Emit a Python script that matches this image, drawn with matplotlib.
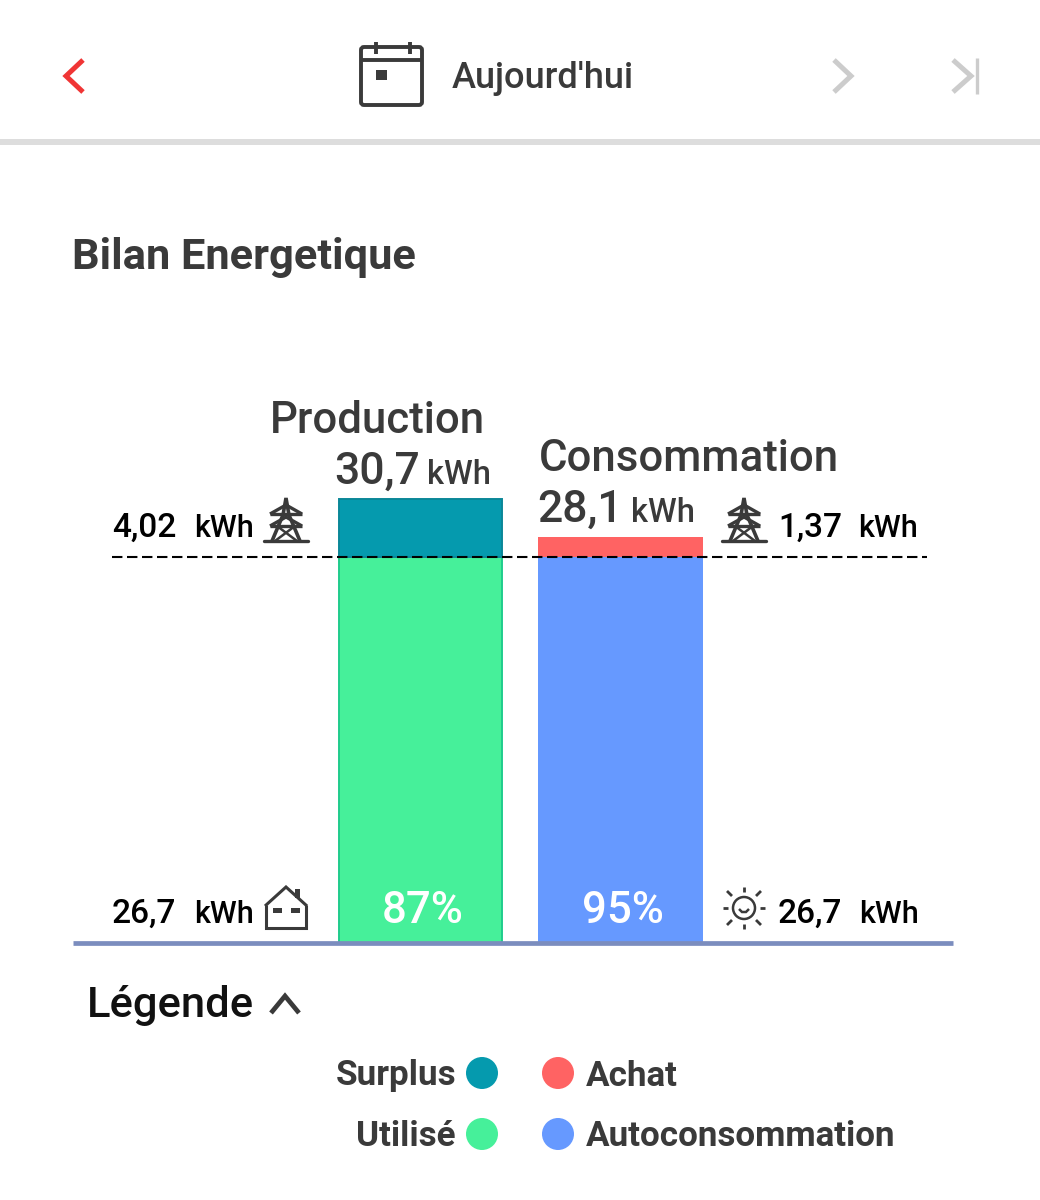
import matplotlib
matplotlib.use('AGG')
import matplotlib.pyplot as plt
from matplotlib.patches import Circle, Rectangle, FancyBboxPatch

plt.rcParams['font.family'] = ['Roboto', 'DejaVu Sans']
plt.rcParams['font.weight'] = 'medium'

# Values
columns = ['Production', 'Consommation']
totals = ['30,7', '28,1']
base_values = [26.7, 26.7]
top_values = [4.02, 1.37]
percents = ['87%', '95%']
side_top = ['4,02', '1,37']
side_bottom = ['26,7', '26,7']

legend_left = ['Surplus', 'Utilisé']
legend_right = ['Achat', 'Autoconsommation']

TEAL = '#059AAE'
GREEN = '#46F09A'
RED = '#FF6363'
BLUE = '#6699FF'
DARK = '#3A3A3A'
GREY = '#CCCCCC'

fig = plt.figure(figsize=(10.4, 12), dpi=100, facecolor='white')

# Bars: one bar step is 200 px, 1 kWh is about 14.46 px
ax = fig.add_axes([73 / 1040, 1 - 943 / 1200, 880 / 1040, 578.4 / 1200])
ax.set_xlim(-1.735, 2.665)
ax.set_ylim(0, 40)
ax.patch.set_alpha(0)
ax.set_xticks([])
ax.set_yticks([])
for side in ['top', 'left', 'right']:
    ax.spines[side].set_visible(False)
ax.spines['bottom'].set_color('#7B8DBE')
ax.spines['bottom'].set_linewidth(3.4)
ax.spines['bottom'].set_capstyle('butt')
ax.spines['bottom'].set_zorder(5)

ax.bar(0, base_values[0], width=0.815, color=GREEN, edgecolor='#20CC8C', linewidth=1.4)
ax.bar(0, top_values[0], bottom=base_values[0], width=0.815, color=TEAL,
       edgecolor='#0B8798', linewidth=1.4)
ax.bar(1, base_values[1], width=0.825, color=BLUE)
ax.bar(1, top_values[1], bottom=base_values[1], width=0.825, color=RED)
ax.plot([-1.54, 2.535], [base_values[0], base_values[0]], color='black', lw=1.5,
        dashes=(5, 2.2), zorder=6)

# Everything around the chart, in pixels
ov = fig.add_axes([0, 0, 1, 1], zorder=10)
ov.set_xlim(0, 1040)
ov.set_ylim(1200, 0)
ov.axis('off')


def line(xs, ys, color=DARK, lw=2.0, cap='butt', join='miter'):
    ov.plot(xs, ys, color=color, lw=lw, solid_capstyle=cap, solid_joinstyle=join)


def pylon(cx, base):
    line([cx - 22, cx + 22], [base, base], lw=2.4, cap='round')
    line([cx - 14, cx - 3, cx, cx + 3, cx + 14], [base, base - 26, base - 43, base - 26, base], lw=2.6)
    line([cx - 16, cx, cx + 16], [base - 27, base - 36, base - 27], lw=2.4)
    line([cx - 16, cx + 16], [base - 27, base - 27], lw=2.4)
    line([cx - 16, cx, cx + 16], [base - 15, base - 24, base - 15], lw=2.4)
    line([cx - 16, cx + 16], [base - 15, base - 15], lw=2.4)
    line([cx - 11, cx + 9], [base, base - 15], lw=1.8)
    line([cx + 11, cx - 9], [base, base - 15], lw=1.8)


def house(x0, y0):
    line([x0, x0 + 21, x0 + 42], [y0 + 19, y0, y0 + 19], lw=2.2)
    line([x0 + 1, x0 + 1, x0 + 41, x0 + 41], [y0 + 18, y0 + 41, y0 + 41, y0 + 18], lw=2.2)
    ov.add_patch(Rectangle((x0 + 30, y0 + 2), 5, 9, color=DARK, lw=0))
    ov.add_patch(Rectangle((x0 + 8, y0 + 21), 9, 5, color=DARK, lw=0))
    ov.add_patch(Rectangle((x0 + 26, y0 + 21), 9, 5, color=DARK, lw=0))


def sun(cx, cy):
    ov.add_patch(Circle((cx, cy), 11, fill=False, ec=DARK, lw=1.8))
    for dx, dy in [(0, -1), (0, 1), (-1, 0), (1, 0)]:
        line([cx + dx * 16, cx + dx * 21], [cy + dy * 16, cy + dy * 21], lw=2.0)
    for dx, dy in [(-1, -1), (1, -1), (-1, 1), (1, 1)]:
        line([cx + dx * 12, cx + dx * 17], [cy + dy * 12, cy + dy * 17], lw=2.0)
    line([cx - 5, cx - 2, cx + 2, cx + 5], [cy + 1, cy + 4, cy + 4, cy + 1], lw=1.8)


# Header
ov.add_patch(Rectangle((0, 139), 1040, 6, color='#DDDDDD', lw=0))
line([83, 66, 83], [60, 76, 92], color='#F03535', lw=3.6)
line([834, 851, 834], [60, 76, 92], color=GREY, lw=3.6)
line([953, 971, 953], [60, 76, 92], color=GREY, lw=3.6)
line([977, 977], [58, 94], color=GREY, lw=2.4)
ov.add_patch(FancyBboxPatch((361, 47), 61, 58, boxstyle='round,pad=0,rounding_size=3',
                            fill=False, ec=DARK, lw=2.8))
line([361, 422], [60, 60], lw=2.8)
line([376, 376], [42, 54], lw=2.8)
line([410, 410], [42, 54], lw=2.8)
ov.add_patch(Rectangle((376, 70), 11, 10, color=DARK, lw=0))
ov.text(452, 78, "Aujourd'hui", fontsize=26, color=DARK, va='center', ha='left')

ov.text(72, 257, 'Bilan Energetique', fontsize=31.2, fontweight='bold', color=DARK,
        va='center', ha='left')

# Column titles
ov.text(377, 421, columns[0], fontsize=31.5, color=DARK, va='center', ha='center')
ov.text(334.5, 484, totals[0], fontsize=32, color=DARK, va='baseline', ha='left')
ov.text(427, 484, 'kWh', fontsize=23.5, color=DARK, va='baseline', ha='left')
ov.text(539, 459, columns[1], fontsize=31.5, color=DARK, va='center', ha='left')
ov.text(537.5, 522, totals[1], fontsize=32, color=DARK, va='baseline', ha='left')
ov.text(631, 522, 'kWh', fontsize=23.5, color=DARK, va='baseline', ha='left')

# Side labels
ov.text(112, 537, side_top[0], fontsize=24, color='black', va='baseline', ha='left')
ov.text(194, 537, 'kWh', fontsize=22, color='black', va='baseline', ha='left')
ov.text(778, 537, side_top[1], fontsize=24, color='black', va='baseline', ha='left')
ov.text(858, 537, 'kWh', fontsize=22, color='black', va='baseline', ha='left')
ov.text(112, 923, side_bottom[0], fontsize=24, color='black', va='baseline', ha='left')
ov.text(194, 923, 'kWh', fontsize=22, color='black', va='baseline', ha='left')
ov.text(778, 923, side_bottom[1], fontsize=24, color='black', va='baseline', ha='left')
ov.text(859, 923, 'kWh', fontsize=22, color='black', va='baseline', ha='left')
pylon(286, 541)
pylon(744, 541)
house(265, 887)
sun(744, 908)

ov.text(422.5, 911, percents[0], fontsize=31.5, color='white', va='center', ha='center')
ov.text(622.5, 911, percents[1], fontsize=31.5, color='white', va='center', ha='center')

# Legend
ov.text(87, 1005, 'Légende', fontsize=31.3, color='#111111', va='center', ha='left')
line([271, 285, 299], [1013, 996, 1013], color=DARK, lw=3.4)

rows = [1076, 1137]
left_colors = [TEAL, GREEN]
right_colors = [RED, BLUE]
for i in range(2):
    ov.text(456, rows[i], legend_left[i], fontsize=25.2, fontweight='bold', color=DARK,
            va='center', ha='right')
    ov.text(585.5, rows[i], legend_right[i], fontsize=25.2, fontweight='bold', color=DARK,
            va='center', ha='left')
    ov.add_patch(Circle((482, rows[i] - 3), 16, color=left_colors[i], lw=0))
    ov.add_patch(Circle((558, rows[i] - 3), 16, color=right_colors[i], lw=0))

fig.savefig('out.png', dpi=100)
